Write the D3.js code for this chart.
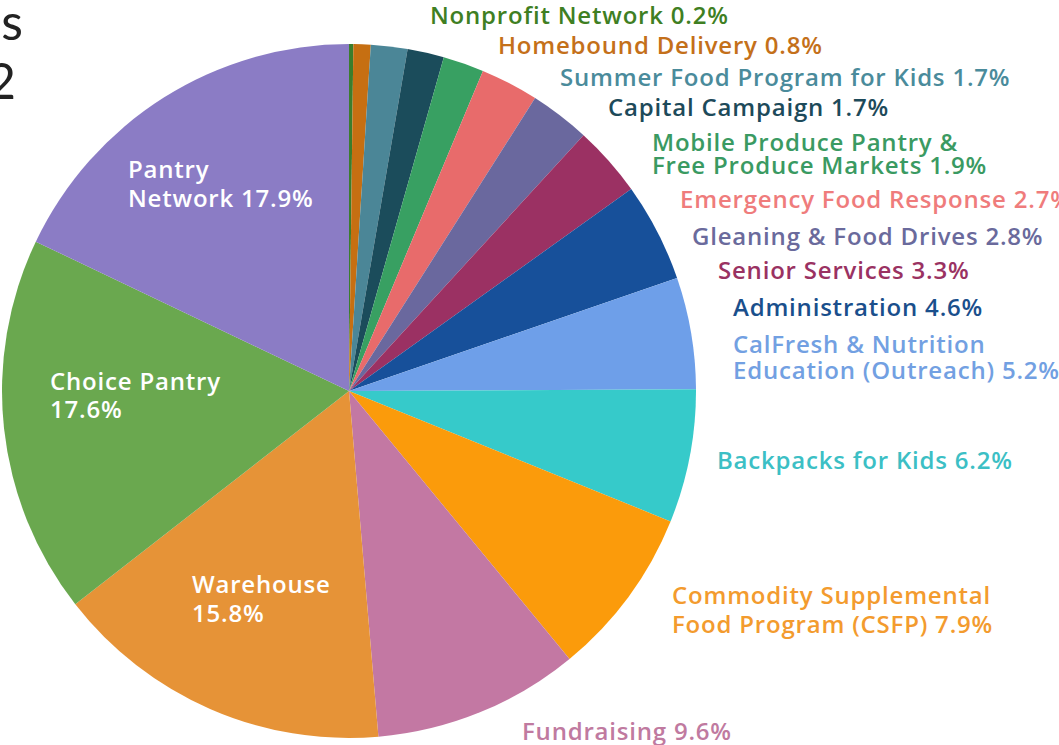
<!DOCTYPE html>
<html>
<head>
<meta charset="utf-8">
<script src="https://cdn.jsdelivr.net/npm/d3@7"></script>
<style>
  body { margin: 0; background: #fff; }
  svg { display: block; }
  text { font-family: "Open Sans", Lato, sans-serif; }
</style>
</head>
<body>
<svg width="1059" height="745"></svg>
<script>
const width = 1059;
const height = 745;

// programs, clockwise from 12 o'clock
const categories = [
    "Nonprofit Network", "Homebound Delivery", "Summer Food Program for Kids",
    "Capital Campaign", "Mobile Produce Pantry & Free Produce Markets",
    "Emergency Food Response", "Gleaning & Food Drives", "Senior Services",
    "Administration", "CalFresh & Nutrition Education (Outreach)",
    "Backpacks for Kids", "Commodity Supplemental Food Program (CSFP)",
    "Fundraising", "Warehouse", "Choice Pantry", "Pantry Network"
];
const values = [0.2, 0.8, 1.7, 1.7, 1.9, 2.7, 2.8, 3.3, 4.6, 5.2, 6.2, 7.9, 9.6, 15.8, 17.6, 17.9];

const sliceColors = [
    "#3b7d2c", "#c66f12", "#4b8697", "#1b4c5b", "#38a062", "#e86b6b", "#6a689e", "#9b3163",
    "#17509a", "#6e9fe9", "#36caca", "#fb9b0b", "#c378a3", "#e69337", "#6aa84f", "#8b7cc5"
];
const labelColors = [
    "#3f7f23", "#c4701a", "#4a8b9b", "#1d4a5a", "#3a9a62", "#ef7c7c", "#6a6a9c", "#9a3262",
    "#1a4f8c", "#72a0e2", "#3cbfc5", "#f39b2e", "#c07aa0", "#ffffff", "#ffffff", "#ffffff"
];

// label lines (text) and where each label sits
const labelLines = [
    ["Nonprofit Network 0.2%"],
    ["Homebound Delivery 0.8%"],
    ["Summer Food Program for Kids 1.7%"],
    ["Capital Campaign 1.7%"],
    ["Mobile Produce Pantry &", "Free Produce Markets 1.9%"],
    ["Emergency Food Response 2.7%"],
    ["Gleaning & Food Drives 2.8%"],
    ["Senior Services 3.3%"],
    ["Administration 4.6%"],
    ["CalFresh & Nutrition", "Education (Outreach) 5.2%"],
    ["Backpacks for Kids 6.2%"],
    ["Commodity Supplemental", "Food Program (CSFP) 7.9%"],
    ["Fundraising 9.6%"],
    ["Warehouse", "15.8%"],
    ["Choice Pantry", "17.6%"],
    ["Pantry", "Network 17.9%"]
];
const labelPos = [
    [430, 24], [498, 54], [560, 86], [608, 116], [652, 151], [680, 208], [692, 245],
    [718, 279], [733, 316], [733, 353], [717, 469], [672, 604], [522, 740],
    [192, 593], [50, 390], [128, 178]
];
const lineGap = [0, 0, 0, 0, 23, 0, 0, 0, 0, 26, 0, 29, 0, 29, 28, 29];

const svg = d3.select("svg");

//--------------------title fragment--------------------
const title = svg.append("text")
    .attr("text-anchor", "end")
    .attr("fill", "#222")
    .style("font-family", "Lato")
    .style("font-weight", 400)
    .style("font-size", "50px")
    .style("letter-spacing", "8px");
title.append("tspan").attr("x", 31).attr("y", 40).text("Programs");
title.append("tspan").attr("x", 24).attr("y", 99).text("2022");

//--------------------Pie--------------------
const cx = 349;
const cy = 391;
const r = 347;

const pie = d3.pie().sort(null).value(d => d);
const arc = d3.arc().innerRadius(0).outerRadius(r);

svg.append("g")
    .attr("transform", "translate(" + cx + "," + cy + ")")
    .selectAll("path")
    .data(pie(values))
    .enter()
    .append("path")
    .attr("d", arc)
    .attr("fill", (d, i) => sliceColors[i]);

//--------------------Labels--------------------
labelLines.forEach((lines, i) => {
    const t = svg.append("text")
        .attr("fill", labelColors[i])
        .style("font-size", "24px")
        .style("font-weight", 600)
        .style("letter-spacing", "0.8px");
    lines.forEach((line, j) => {
        t.append("tspan")
            .attr("x", labelPos[i][0])
            .attr("y", labelPos[i][1] + j * lineGap[i])
            .text(line);
    });
});
</script>
</body>
</html>
